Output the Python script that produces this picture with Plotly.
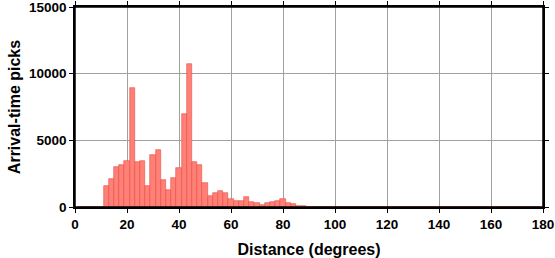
import plotly.graph_objects as go

# Bin centres (degrees), 2-degree bins
distance_bins = list(range(2, 180, 2))

# Arrival-time picks per bin
picks = [
    15, 15, 15, 15, 15,                      # 2-10
    1590, 2090, 2980, 3130, 3430,            # 12-20
    8900, 3360, 3460, 1590, 3900,            # 22-30
    4280, 2010, 1290, 2160, 2930,            # 32-40
    6960, 10690, 3380, 3180, 1770,           # 42-50
    850, 1070, 1190, 1020, 620,              # 52-60
    470, 450, 770, 410, 320,                 # 62-70
    175, 275, 350, 420, 620,                 # 72-80
    320, 250, 100, 75, 30,                   # 82-90
    15, 10, 8, 5, 5, 5, 4, 4, 3, 3,          # 92-110
    3, 3, 3, 3, 3, 3, 3, 3, 3, 3,            # 112-130
    3, 3, 3, 3, 3, 3, 3, 3, 3, 3,            # 132-150
    3, 3, 3, 3, 3, 3, 3, 3, 3, 8,            # 152-170
    8, 8, 5, 3,                              # 172-178
]

x_ticks = [0, 20, 40, 60, 80, 100, 120, 140, 160, 180]
y_ticks = [0, 5000, 10000, 15000]

font_family = "Liberation Sans, Arial, Helvetica, sans-serif"

fig = go.Figure(
    go.Bar(
        x=distance_bins,
        y=picks,
        width=2,
        marker=dict(color="rgb(255,128,118)",
                    line=dict(color="rgb(235,75,65)", width=0.6)),
    )
)

axis_common = dict(
    showline=True, linecolor="black", linewidth=1.5, mirror="ticks",
    ticks="outside", ticklen=4, tickwidth=1, tickcolor="black",
    showgrid=True, gridcolor="rgb(160,160,160)", gridwidth=1,
    zeroline=False, ticklabeloverflow="allow",
    tickfont=dict(family=font_family, size=13.5, color="black", weight="bold"),
)

fig.update_xaxes(
    range=[0, 180], tickvals=x_ticks, ticktext=[str(v) for v in x_ticks],
    title=dict(text="Distance (degrees)",
               font=dict(family=font_family, size=16, color="black", weight="bold"),
               standoff=14),
    **axis_common,
)
fig.update_yaxes(
    range=[0, 15000], tickvals=y_ticks, ticktext=[str(v) for v in y_ticks],
    title=dict(text="Arrival-time picks",
               font=dict(family=font_family, size=16, color="black", weight="bold"),
               standoff=4),
    **axis_common,
)

# plot frame
fig.add_shape(type="rect", xref="paper", yref="paper", x0=0, x1=1, y0=0, y1=1,
              line=dict(color="black", width=1.5), fillcolor="rgba(0,0,0,0)",
              layer="above")

fig.update_layout(
    width=555, height=258,
    margin=dict(l=75, r=12, t=7, b=51, autoexpand=False),
    paper_bgcolor="white", plot_bgcolor="white",
    bargap=0, showlegend=False,
)

fig.write_html("out.html")
